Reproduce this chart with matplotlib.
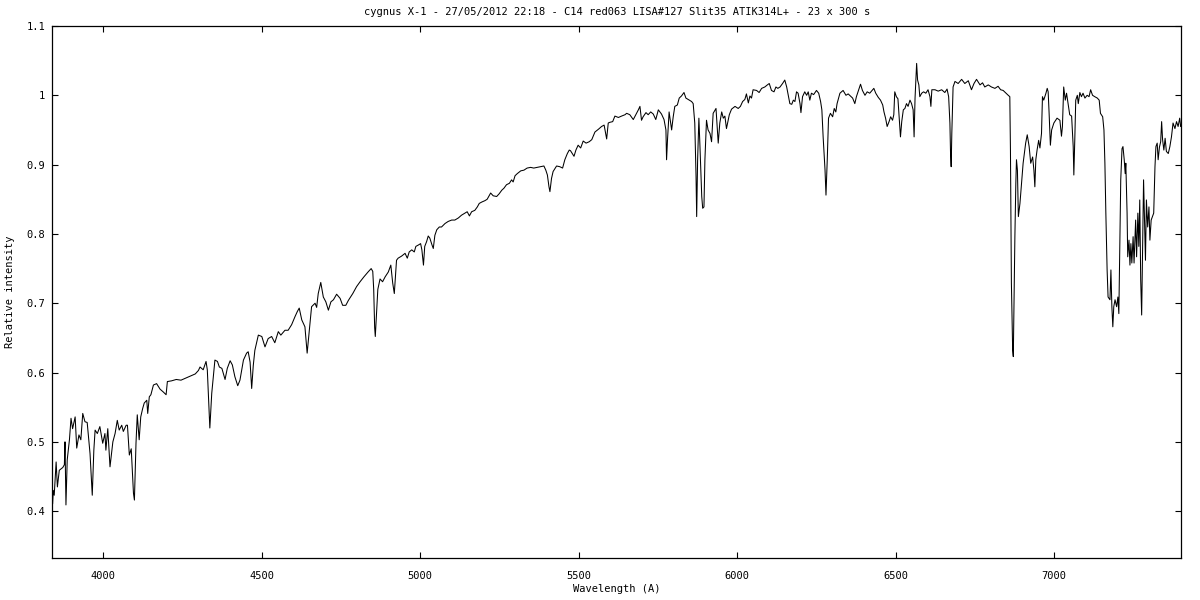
import matplotlib
matplotlib.use("Agg")
import matplotlib.pyplot as plt

# Wavelength (A) and relative intensity
wavelength = [
    3840, 3842, 3845, 3851, 3855, 3861, 3872, 3877, 3879, 3882, 3886, 3893, 3898, 3903, 3911, 3916,
    3923, 3929, 3935, 3942, 3949, 3958, 3965, 3970, 3974, 3981, 3989, 3998, 4005, 4008, 4014, 4021,
    4030, 4037, 4044, 4050, 4058, 4063, 4072, 4076, 4082, 4088, 4095, 4098, 4103, 4107, 4113, 4118,
    4124, 4129, 4137, 4140, 4145, 4150, 4158, 4168, 4179, 4189, 4198, 4202, 4215, 4230, 4245, 4260,
    4275, 4290, 4300, 4305, 4315, 4324, 4328, 4334, 4336, 4342, 4347, 4352, 4360, 4366, 4374, 4384,
    4391, 4400, 4407, 4415, 4424, 4431, 4442, 4452, 4457, 4463, 4468, 4473, 4478, 4489, 4500, 4510,
    4520, 4531, 4541, 4552, 4560, 4573, 4583, 4594, 4605, 4612, 4618, 4626, 4636, 4643, 4650, 4657,
    4668, 4673, 4678, 4686, 4694, 4702, 4710, 4718, 4726, 4736, 4747, 4755, 4765, 4773, 4787, 4799,
    4810, 4822, 4835, 4845, 4850, 4853, 4856, 4858, 4862, 4866, 4873, 4881, 4889, 4899, 4907, 4913,
    4918, 4925, 4930, 4941, 4952, 4959, 4965, 4973, 4981, 4986, 4994, 5001, 5005, 5010, 5014, 5020,
    5025, 5030, 5037, 5041, 5046, 5052, 5060, 5067, 5078, 5088, 5099, 5109, 5120, 5130, 5141, 5148,
    5155, 5162, 5172, 5180, 5186, 5194, 5204, 5211, 5222, 5230, 5241, 5249, 5257, 5264, 5272, 5281,
    5288, 5293, 5299, 5306, 5317, 5327, 5337, 5348, 5358, 5369, 5380, 5390, 5396, 5401, 5406, 5409,
    5414, 5419, 5430, 5440, 5449, 5456, 5464, 5470, 5474, 5485, 5491, 5498, 5506, 5514, 5523, 5533,
    5541, 5551, 5562, 5572, 5580, 5588, 5593, 5598, 5607, 5614, 5625, 5635, 5646, 5651, 5661, 5672,
    5680, 5688, 5693, 5698, 5703, 5712, 5719, 5727, 5735, 5743, 5751, 5761, 5769, 5775, 5777, 5780,
    5785, 5793, 5798, 5803, 5811, 5817, 5824, 5832, 5838, 5845, 5856, 5861, 5866, 5870, 5872, 5875,
    5879, 5882, 5888, 5891, 5895, 5898, 5903, 5908, 5914, 5919, 5924, 5933, 5940, 5945, 5951, 5956,
    5961, 5966, 5975, 5982, 5993, 6003, 6010, 6017, 6024, 6029, 6035, 6040, 6045, 6050, 6061, 6069,
    6077, 6087, 6095, 6101, 6108, 6116, 6122, 6128, 6135, 6143, 6150, 6156, 6161, 6166, 6172, 6177,
    6182, 6187, 6192, 6198, 6201, 6206, 6213, 6219, 6224, 6229, 6234, 6241, 6250, 6257, 6263, 6267,
    6271, 6277, 6280, 6284, 6288, 6294, 6301, 6306, 6311, 6315, 6324, 6334, 6343, 6350, 6357, 6364,
    6371, 6376, 6381, 6389, 6395, 6403, 6410, 6418, 6427, 6431, 6437, 6445, 6452, 6459, 6463, 6468,
    6473, 6479, 6484, 6490, 6494, 6497, 6502, 6507, 6511, 6515, 6519, 6524, 6529, 6534, 6539, 6545,
    6550, 6555, 6558, 6561, 6566, 6569, 6573, 6576, 6582, 6588, 6595, 6602, 6608, 6611, 6614, 6624,
    6634, 6645, 6655, 6662, 6667, 6671, 6673, 6675, 6677, 6681, 6687, 6697, 6708, 6718, 6729, 6739,
    6747, 6755, 6766, 6774, 6781, 6792, 6802, 6813, 6823, 6831, 6839, 6848, 6855, 6860, 6862, 6865,
    6869, 6871, 6873, 6876, 6879, 6881, 6884, 6887, 6892, 6897, 6902, 6910, 6915, 6921, 6926, 6932,
    6936, 6939, 6942, 6946, 6951, 6955, 6960, 6963, 6967, 6974, 6978, 6981, 6984, 6988, 6992, 6999,
    7009, 7018, 7023, 7026, 7030, 7035, 7039, 7044, 7049, 7055, 7060, 7062, 7065, 7068, 7073, 7076,
    7081, 7086, 7091, 7097, 7104, 7110, 7115, 7121, 7128, 7136, 7142, 7146, 7153, 7157, 7160, 7163,
    7167, 7170, 7176, 7179, 7182, 7185, 7188, 7192, 7197, 7201, 7204, 7207, 7210, 7214, 7217, 7221,
    7224, 7226, 7230, 7232, 7236, 7239, 7242, 7245, 7249, 7252, 7257, 7260, 7264, 7267, 7270, 7273,
    7276, 7279, 7282, 7285, 7288, 7291, 7295, 7299, 7302, 7306, 7310, 7314, 7318, 7321, 7325, 7328,
    7332, 7336, 7339, 7342, 7346, 7350, 7354, 7360, 7365, 7370, 7375, 7381, 7386, 7391, 7396, 7399,
]
intensity = [
    0.411, 0.430, 0.423, 0.471, 0.435, 0.459, 0.463, 0.467, 0.500, 0.409, 0.474, 0.503, 0.534, 0.519, 0.536, 0.491,
    0.510, 0.503, 0.541, 0.529, 0.528, 0.483, 0.423, 0.488, 0.517, 0.512, 0.522, 0.498, 0.512, 0.488, 0.519, 0.464,
    0.500, 0.512, 0.531, 0.517, 0.524, 0.515, 0.524, 0.524, 0.481, 0.490, 0.426, 0.416, 0.498, 0.539, 0.503, 0.536,
    0.548, 0.556, 0.560, 0.541, 0.565, 0.568, 0.582, 0.584, 0.576, 0.572, 0.568, 0.587, 0.588, 0.590, 0.589, 0.592,
    0.595, 0.598, 0.603, 0.608, 0.604, 0.616, 0.604, 0.541, 0.520, 0.570, 0.594, 0.618, 0.616, 0.608, 0.606, 0.590,
    0.606, 0.617, 0.611, 0.594, 0.581, 0.589, 0.618, 0.628, 0.630, 0.615, 0.577, 0.610, 0.632, 0.654, 0.652, 0.637,
    0.649, 0.652, 0.643, 0.659, 0.654, 0.661, 0.661, 0.669, 0.681, 0.688, 0.693, 0.676, 0.666, 0.628, 0.661, 0.695,
    0.700, 0.694, 0.714, 0.730, 0.709, 0.702, 0.690, 0.702, 0.705, 0.713, 0.707, 0.697, 0.697, 0.704, 0.714, 0.724,
    0.731, 0.738, 0.745, 0.750, 0.746, 0.720, 0.665, 0.652, 0.685, 0.720, 0.735, 0.731, 0.738, 0.745, 0.755, 0.729,
    0.714, 0.762, 0.765, 0.768, 0.772, 0.765, 0.774, 0.777, 0.774, 0.782, 0.784, 0.786, 0.777, 0.755, 0.782, 0.789,
    0.797, 0.794, 0.784, 0.779, 0.798, 0.806, 0.810, 0.810, 0.815, 0.818, 0.820, 0.820, 0.823, 0.827, 0.830, 0.832,
    0.826, 0.832, 0.834, 0.839, 0.844, 0.846, 0.848, 0.850, 0.859, 0.855, 0.854, 0.858, 0.863, 0.866, 0.871, 0.873,
    0.878, 0.875, 0.884, 0.887, 0.891, 0.892, 0.895, 0.896, 0.895, 0.896, 0.897, 0.898, 0.892, 0.885, 0.868, 0.861,
    0.880, 0.890, 0.898, 0.897, 0.895, 0.907, 0.916, 0.921, 0.920, 0.912, 0.921, 0.928, 0.924, 0.934, 0.931, 0.933,
    0.936, 0.947, 0.951, 0.955, 0.957, 0.937, 0.960, 0.961, 0.962, 0.970, 0.968, 0.970, 0.972, 0.974, 0.972, 0.965,
    0.972, 0.979, 0.984, 0.964, 0.969, 0.975, 0.972, 0.976, 0.973, 0.965, 0.979, 0.973, 0.965, 0.950, 0.907, 0.936,
    0.976, 0.950, 0.969, 0.984, 0.986, 0.996, 0.999, 1.004, 0.996, 0.994, 0.991, 0.988, 0.960, 0.883, 0.825, 0.907,
    0.967, 0.931, 0.854, 0.837, 0.839, 0.907, 0.964, 0.950, 0.945, 0.933, 0.974, 0.981, 0.931, 0.960, 0.976, 0.967,
    0.970, 0.952, 0.972, 0.980, 0.984, 0.981, 0.984, 0.991, 0.994, 1.002, 0.989, 0.999, 0.996, 1.008, 1.007, 1.004,
    1.010, 1.012, 1.015, 1.017, 1.007, 1.005, 1.012, 1.010, 1.012, 1.017, 1.022, 1.012, 1.000, 0.988, 0.987, 0.993,
    0.991, 1.005, 1.003, 0.988, 0.975, 0.998, 1.005, 1.000, 1.005, 0.993, 1.003, 1.001, 1.007, 1.003, 0.991, 0.979,
    0.940, 0.892, 0.856, 0.907, 0.967, 0.974, 0.969, 0.981, 0.976, 0.988, 1.003, 1.007, 1.000, 1.002, 0.999, 0.996,
    0.988, 0.998, 1.005, 1.016, 1.007, 1.000, 1.005, 1.003, 1.008, 1.010, 1.003, 0.997, 0.993, 0.986, 0.976, 0.967,
    0.955, 0.962, 0.969, 0.964, 0.972, 1.005, 0.998, 0.995, 0.967, 0.940, 0.962, 0.979, 0.981, 0.988, 0.984, 0.993,
    0.988, 0.979, 0.940, 0.996, 1.046, 1.022, 1.015, 0.998, 1.003, 1.005, 1.003, 1.008, 0.998, 0.984, 1.008, 1.008,
    1.006, 1.008, 1.004, 1.009, 0.998, 0.960, 0.916, 0.897, 0.945, 1.012, 1.020, 1.017, 1.023, 1.017, 1.021, 1.008,
    1.017, 1.023, 1.015, 1.018, 1.012, 1.015, 1.012, 1.010, 1.013, 1.008, 1.007, 1.003, 1.000, 0.998, 0.921, 0.729,
    0.632, 0.623, 0.690, 0.796, 0.873, 0.907, 0.892, 0.825, 0.844, 0.873, 0.902, 0.931, 0.943, 0.926, 0.902, 0.911,
    0.892, 0.868, 0.907, 0.921, 0.935, 0.924, 0.945, 0.998, 0.993, 1.003, 1.010, 1.005, 0.974, 0.928, 0.950, 0.960,
    0.967, 0.964, 0.941, 0.955, 1.012, 0.993, 1.003, 0.988, 0.972, 0.970, 0.926, 0.885, 0.936, 0.993, 1.000, 0.988,
    1.004, 0.998, 1.003, 0.996, 1.000, 0.998, 1.008, 1.000, 0.998, 0.996, 0.993, 0.974, 0.969, 0.950, 0.902, 0.830,
    0.748, 0.709, 0.705, 0.748, 0.695, 0.666, 0.695, 0.705, 0.695, 0.709, 0.685, 0.782, 0.878, 0.923, 0.926, 0.907,
    0.887, 0.902, 0.830, 0.767, 0.791, 0.755, 0.786, 0.758, 0.796, 0.758, 0.820, 0.767, 0.830, 0.782, 0.849, 0.733,
    0.683, 0.782, 0.878, 0.820, 0.762, 0.849, 0.810, 0.839, 0.791, 0.820, 0.825, 0.830, 0.897, 0.926, 0.931, 0.907,
    0.925, 0.933, 0.962, 0.936, 0.921, 0.938, 0.919, 0.916, 0.926, 0.940, 0.960, 0.952, 0.962, 0.955, 0.967, 0.955,
]

xticks = [4000, 4500, 5000, 5500, 6000, 6500, 7000]
yticks = [0.4, 0.5, 0.6, 0.7, 0.8, 0.9, 1.0, 1.1]
ytick_labels = ["0.4", "0.5", "0.6", "0.7", "0.8", "0.9", "1", "1.1"]

title = "cygnus X-1 - 27/05/2012 22:18 - C14 red063 LISA#127 Slit35 ATIK314L+ - 23 x 300 s"

plt.rcParams['font.family'] = ['DejaVu Sans Mono']

fig = plt.figure(figsize=(12, 6), dpi=100)
ax = fig.add_axes([0.0436, 0.0695, 0.9408, 0.8872])

# thin 1px trace, gnuplot-like
ax.plot(wavelength, intensity, color='black', linewidth=0.75)

ax.set_xlim(3839, 7401)
ax.set_ylim(0.332, 1.1)
ax.set_xticks(xticks)
ax.set_yticks(yticks)
ax.set_yticklabels(ytick_labels)
ax.tick_params(direction='in', top=True, right=True, length=4.5, width=0.8,
               labelsize=7.5)
ax.tick_params(axis='x', pad=9)
ax.tick_params(axis='y', pad=5)
for s in ax.spines.values():
    s.set_linewidth(0.9)

ax.set_title(title, fontsize=7.5, pad=8)
ax.set_xlabel('Wavelength (A)', fontsize=7.5)
ax.set_ylabel('Relative intensity', fontsize=7.5)
ax.xaxis.set_label_coords(0.5, -0.048)
ax.yaxis.set_label_coords(-0.033, 0.5)

fig.savefig('out.png', dpi=100, facecolor='white')
